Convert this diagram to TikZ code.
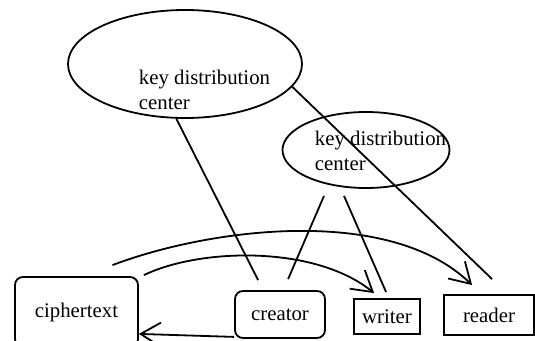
\documentclass[tikz,border=0pt]{standalone}
\usepackage{fontspec}
\setmainfont{Liberation Serif}
\usetikzlibrary{shapes.geometric,arrows.meta}
\begin{document}
\begin{tikzpicture}[x=1pt,y=-1pt,line width=1.8pt,
  every node/.style={font=\fontsize{20.8}{25}\selectfont,inner sep=0pt},
  oval/.style={draw,ellipse},
  label text/.style={align=left,anchor=base west},
  roundbox/.style={draw,rounded corners=8pt},
  sqbox/.style={draw},
  arr/.style={-{Straight Barb[length=20pt,width=24pt,line width=1.8pt]}}]
\useasboundingbox (0,0) rectangle (535,340);
% ellipses
\node[oval,minimum width=234pt,minimum height=108pt] (kdc1) at (185,64) {};
\node[label text] (kdc1t) at (138,109) {key distribution\\center};
\node[oval,minimum width=167pt,minimum height=76pt] (kdc2) at (366,150) {};
\node[label text] (kdc2t) at (314,170) {key distribution\\center};
% boxes
\node[roundbox,minimum width=123pt,minimum height=70pt] (cipher) at (76.5,312) {ciphertext};
\node[roundbox,minimum width=90pt,minimum height=47pt] (creator) at (280,314.5) {creator};
\node[sqbox,minimum width=66pt,minimum height=35pt] (writer) at (387,316.5) {writer};
\node[sqbox,minimum width=90pt,minimum height=40pt] (reader) at (489,315) {reader};
% lines from KDCs
\draw (kdc1.-99) -- ([xshift=24pt,yshift=10pt]creator.north west);
\draw (kdc1.-12) -- ([xshift=49pt,yshift=15pt]reader.north west);
\draw ([xshift=-42pt,yshift=-7pt]kdc2.south) -- ([xshift=54pt,yshift=11pt]creator.north west);
\draw ([xshift=-22pt,yshift=-7pt]kdc2.south) -- ([xshift=33pt,yshift=6pt]writer.north west);
% curved arrows
\draw[arr] ([xshift=5pt,yshift=1pt]cipher.north east) .. controls (200,248) and (315,245) .. ([xshift=21pt,yshift=5pt]writer.north west);
\draw[arr] ([xshift=36pt,yshift=11pt]cipher.north) .. controls (210,228) and (390,205) .. ([xshift=29pt,yshift=9pt]reader.north west);
% creator to ciphertext
\draw[arr] ([yshift=2pt]creator.south west) -- ([yshift=14pt]cipher.south east);
\end{tikzpicture}
\end{document}
